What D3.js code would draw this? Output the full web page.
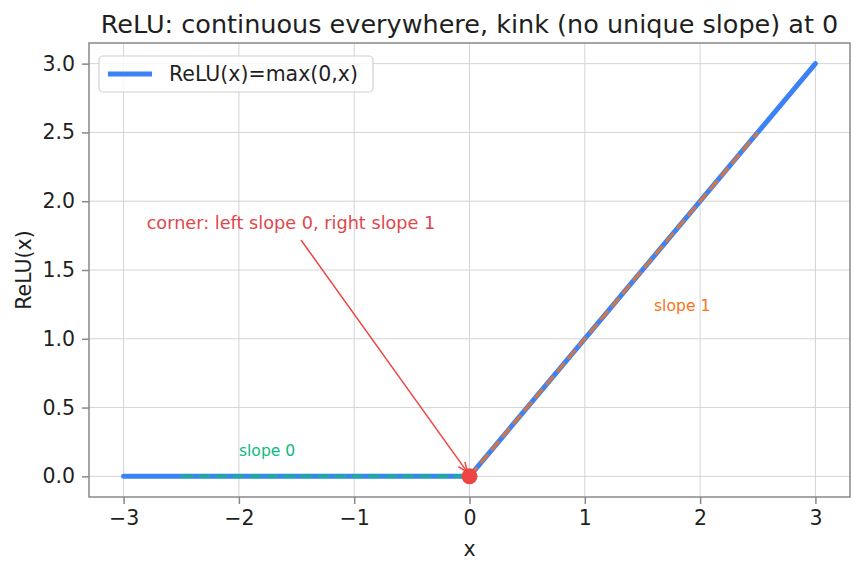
<!DOCTYPE html>
<html><head><meta charset="utf-8">
<script src="https://cdn.jsdelivr.net/npm/d3@7"></script>
<style>body{margin:0;background:#fff;font-family:"DejaVu Sans",sans-serif;}</style>
</head><body><svg id="c" width="862" height="573"></svg>
<script>
const reluX = [-3, 0, 3];
const reluY = [0, 0, 3];
const leftX = [-2.5, 0];
const leftY = [0, 0];
const rightX = [0, 2.5];
const rightY = [0, 2.5];
const xTicks = [-3, -2, -1, 0, 1, 2, 3];
const yTicks = [0, 0.5, 1.0, 1.5, 2.0, 2.5, 3.0];
const kink = [0, 0];
const cornerText = [-2.8, 1.8];
const slope0Pos = [-2, 0.15];
const slope1Pos = [1.6, 1.2];

const svg = d3.select("#c");
const L = 89, R = 850, T = 43, B = 497;
const x = d3.scaleLinear().domain([-3.3, 3.3]).range([L, R]);
const y = d3.scaleLinear().domain([-0.15, 3.15]).range([B, T]);
const TXT = "#1f1f1f";

// grid
const g = svg.append("g");
g.selectAll(".gx").data(xTicks).join("line").attr("x1", d=>x(d)).attr("x2", d=>x(d)).attr("y1", T).attr("y2", B).attr("stroke", "#d4d4d8").attr("stroke-width", 1);
g.selectAll(".gy").data(yTicks).join("line").attr("y1", d=>y(d)).attr("y2", d=>y(d)).attr("x1", L).attr("x2", R).attr("stroke", "#d4d4d8").attr("stroke-width", 1);

const line = d3.line().x(d=>x(d[0])).y(d=>y(d[1]));
svg.append("path").datum(reluX.map((v,i)=>[v, reluY[i]])).attr("d", line).attr("fill","none").attr("stroke","#3b82f6").attr("stroke-width",5).attr("stroke-linecap","round").attr("stroke-linejoin","round");
svg.append("path").datum(leftX.map((v,i)=>[v, leftY[i]])).attr("d", line).attr("fill","none").attr("stroke","#10b981").attr("stroke-width",3).attr("stroke-dasharray","12,5").attr("stroke-opacity",0.9);
svg.append("path").datum(rightX.map((v,i)=>[v, rightY[i]])).attr("d", line).attr("fill","none").attr("stroke","#f97316").attr("stroke-width",3).attr("stroke-dasharray","12,5").attr("stroke-opacity",0.8);

// kink point
svg.append("circle").attr("cx", x(kink[0])).attr("cy", y(kink[1])).attr("r", 8).attr("fill", "#ef4444");

// annotation arrow
const defs = svg.append("defs");
defs.append("marker").attr("id","ah").attr("viewBox","0 0 10 10").attr("refX",10).attr("refY",5).attr("markerWidth",10).attr("markerHeight",10).attr("orient","auto").attr("markerUnits","userSpaceOnUse")
  .append("path").attr("d","M0,1 L10,5 L0,9").attr("fill","none").attr("stroke","#ef4444").attr("stroke-width",1.5);
svg.append("line").attr("x1", 301).attr("y1", 240).attr("x2", x(kink[0]) - 2).attr("y2", y(kink[1]) - 4)
  .attr("stroke","#ef4444").attr("stroke-width",1.5).attr("marker-end","url(#ah)");
svg.append("text").attr("x", x(cornerText[0])).attr("y", y(cornerText[1])).attr("fill","#e0474c").attr("font-size",17.7).text("corner: left slope 0, right slope 1");
svg.append("text").attr("x", x(slope0Pos[0])).attr("y", y(slope0Pos[1])).attr("fill","#10b981").attr("font-size",15.6).text("slope 0");
svg.append("text").attr("x", x(slope1Pos[0])).attr("y", y(slope1Pos[1])).attr("fill","#f97316").attr("font-size",15.6).text("slope 1");

// axes frame
svg.append("rect").attr("x",L).attr("y",T).attr("width",R-L).attr("height",B-T).attr("fill","none").attr("stroke","#888").attr("stroke-width",1.5);
const xa = svg.append("g").attr("transform",`translate(0,${B})`).call(d3.axisBottom(x).tickValues(xTicks).tickSize(7).tickPadding(6).tickFormat(d=>d<0?"−"+Math.abs(d):d));
const ya = svg.append("g").attr("transform",`translate(${L},0)`).call(d3.axisLeft(y).tickValues(yTicks).tickSize(7).tickPadding(7).tickFormat(d3.format(".1f")));
[xa, ya].forEach(a=>{a.select(".domain").remove(); a.selectAll("line").attr("stroke","#888").attr("stroke-width",1.5); a.selectAll("text").attr("font-size",20.5).attr("fill",TXT).attr("font-family","DejaVu Sans");});

svg.append("text").attr("x",(L+R)/2).attr("y",556).attr("text-anchor","middle").attr("font-size",20.5).attr("fill",TXT).text("x");
svg.append("text").attr("transform",`translate(31,${(T+B)/2}) rotate(-90)`).attr("text-anchor","middle").attr("font-size",20.5).attr("fill",TXT).text("ReLU(x)");
svg.append("text").attr("x",(L+R)/2).attr("y",33).attr("text-anchor","middle").attr("font-size",25.5).attr("fill",TXT).text("ReLU: continuous everywhere, kink (no unique slope) at 0");

// legend
const lg = svg.append("g");
lg.append("rect").attr("x",99).attr("y",56).attr("width",274).attr("height",36).attr("rx",4).attr("fill","#fff").attr("fill-opacity",0.8).attr("stroke","#d0d0d0").attr("stroke-width",1.2);
lg.append("line").attr("x1",108).attr("x2",152).attr("y1",74).attr("y2",74).attr("stroke","#3b82f6").attr("stroke-width",5);
lg.append("text").attr("x",169).attr("y",81).attr("font-size",20.5).attr("fill",TXT).text("ReLU(x)=max(0,x)");
</script></body></html>
